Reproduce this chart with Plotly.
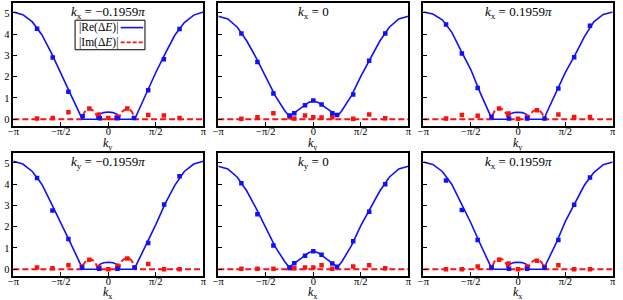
import numpy as np
import plotly.graph_objects as go

PI = np.pi

# ---------------- text ----------------
panel_titles = [
    "<i>k</i><sub>x</sub> = −0.1959<i>π</i>",
    "<i>k</i><sub>x</sub> = 0",
    "<i>k</i><sub>x</sub> = 0.1959<i>π</i>",
    "<i>k</i><sub>y</sub> = −0.1959<i>π</i>",
    "<i>k</i><sub>y</sub> = 0",
    "<i>k</i><sub>x</sub> = 0.1959<i>π</i>",
]
x_titles = ["<i>k</i><sub>y</sub>"] * 3 + ["<i>k</i><sub>x</sub>"] * 3
legend_labels = ["|Re(Δ<i>E</i>)|", "|Im(Δ<i>E</i>)|"]
xtick_pos = [-1, -0.5, 0, 0.5, 1]          # in units of pi
xtick_text = ["−π", "−π/2", "0", "π/2", "π"]
ytick_vals = [0, 1, 2, 3, 4, 5]

# ---------------- data (k in units of pi) ----------------
# Panel A: top-left
re_k_A = [-1, -0.9, -0.8, -0.7, -0.6, -0.5, -0.4, -0.3, -0.275, -0.115, -0.11, -0.09, -0.05, 0,
          0.05, 0.09, 0.11, 0.115, 0.28, 0.3, 0.4, 0.5, 0.6, 0.7, 0.8, 0.9, 1]
re_A = [5.05, 4.92, 4.58, 3.98, 3.12, 2.2, 1.2, 0.25, 0, 0, 0.13, 0.24, 0.31, 0.34,
        0.31, 0.24, 0.13, 0, 0, 0.22, 1.25, 2.2, 3.1, 3.95, 4.55, 4.9, 5.05]
im_k_A = [-1, -0.275, -0.265, -0.25, -0.23, -0.2, -0.17, -0.145, -0.125, -0.115,
          0.115, 0.125, 0.145, 0.17, 0.2, 0.23, 0.25, 0.265, 0.28, 1]
im_A = [0, 0, 0.2, 0.34, 0.44, 0.48, 0.44, 0.34, 0.2, 0,
        0, 0.2, 0.34, 0.44, 0.48, 0.44, 0.34, 0.2, 0, 0]
blue_k_A = [-0.75, -0.585, -0.42, -0.27, -0.09, 0.09, 0.27, 0.42, 0.585, 0.75]
blue_A = [4.26, 2.90, 1.29, 0.14, 0.04, 0.04, 0.06, 1.36, 2.82, 4.25]
red_k_A = [-0.75, -0.585, -0.42, -0.2, -0.1, 0.0, 0.09, 0.2, 0.42, 0.585, 0.75]
red_A = [0.03, 0.06, 0.33, 0.50, 0.22, 0.06, 0.11, 0.50, 0.20, 0.17, 0.06]

# Panel B: top-middle
re_k_B = [-1, -0.9, -0.8, -0.7, -0.6, -0.5, -0.4, -0.3, -0.255, -0.2, -0.15, -0.1, -0.05, 0,
          0.05, 0.1, 0.15, 0.2, 0.255, 0.3, 0.4, 0.5, 0.6, 0.7, 0.8, 0.9, 1]
re_B = [4.85, 4.72, 4.33, 3.68, 2.88, 2.02, 1.1, 0.4, 0.15, 0.3, 0.47, 0.64, 0.79, 0.86,
        0.79, 0.64, 0.47, 0.3, 0.15, 0.4, 1.1, 2.02, 2.88, 3.68, 4.33, 4.72, 4.85]
im_k_B = [-1, 1]
im_B = [0, 0]
blue_k_B = [-0.757, -0.588, -0.42, -0.25, -0.2, -0.087, 0, 0.087, 0.2, 0.25, 0.42, 0.588, 0.757]
blue_B = [4.04, 2.69, 1.21, 0.17, 0.28, 0.66, 0.88, 0.69, 0.28, 0.2, 1.16, 2.75, 4.04]
red_k_B = [-0.757, -0.588, -0.42, -0.25, -0.2, -0.087, 0, 0.087, 0.2, 0.42, 0.588, 0.757]
red_B = [0.02, 0.09, 0.28, 0.09, 0.03, 0.17, 0.09, 0.08, 0.09, 0.02, 0.22, 0.05]

# Panel C: top-right
re_k_C = [-1, -0.9, -0.8, -0.7, -0.6, -0.5, -0.4, -0.3, -0.275, -0.11, -0.105, -0.085, -0.045, 0,
          0.045, 0.085, 0.105, 0.11, 0.275, 0.3, 0.4, 0.5, 0.6, 0.7, 0.8, 0.9, 1]
re_C = [5.05, 4.95, 4.68, 4.1, 3.2, 2.35, 1.25, 0.3, 0, 0, 0.13, 0.24, 0.31, 0.33,
        0.31, 0.24, 0.13, 0, 0, 0.28, 1.2, 2.2, 3.0, 3.88, 4.58, 4.93, 5.05]
im_k_C = [-1, -0.275, -0.265, -0.25, -0.23, -0.195, -0.165, -0.14, -0.12, -0.11,
          0.11, 0.12, 0.14, 0.165, 0.195, 0.23, 0.25, 0.265, 0.275, 1]
im_C = [0, 0, 0.22, 0.37, 0.47, 0.52, 0.47, 0.37, 0.22, 0,
        0, 0.18, 0.3, 0.39, 0.43, 0.39, 0.3, 0.18, 0, 0]
blue_k_C = [-0.76, -0.593, -0.426, -0.28, -0.095, 0.095, 0.28, 0.426, 0.593, 0.76]
blue_C = [4.46, 3.09, 1.47, 0.11, 0.03, 0.03, 0.03, 1.45, 2.92, 4.4]
red_k_C = [-0.76, -0.593, -0.426, -0.2, -0.1, 0.0, 0.095, 0.2, 0.426, 0.593, 0.76]
red_C = [0.03, 0.2, 0.16, 0.5, 0.27, 0.02, 0.1, 0.42, 0.22, 0.1, 0.1]

# Panel D: bottom-left
re_k_D = [-1, -0.9, -0.8, -0.7, -0.6, -0.5, -0.4, -0.3, -0.275, -0.115, -0.11, -0.09, -0.05, 0,
          0.05, 0.09, 0.11, 0.115, 0.275, 0.3, 0.4, 0.5, 0.6, 0.7, 0.8, 0.9, 1]
re_D = [5.08, 4.95, 4.6, 4.0, 3.1, 2.2, 1.25, 0.3, 0, 0, 0.12, 0.23, 0.3, 0.33,
        0.3, 0.23, 0.12, 0, 0, 0.25, 1.15, 2.1, 3.1, 3.95, 4.6, 4.95, 5.08]
im_k_D = [-1, -0.275, -0.265, -0.25, -0.23, -0.195, -0.165, -0.14, -0.125, -0.115,
          0.115, 0.125, 0.14, 0.165, 0.195, 0.23, 0.25, 0.265, 0.275, 1]
im_D = [0, 0, 0.2, 0.33, 0.43, 0.47, 0.43, 0.33, 0.2, 0,
        0, 0.22, 0.37, 0.48, 0.53, 0.48, 0.37, 0.22, 0, 0]
blue_k_D = [-0.75, -0.588, -0.42, -0.277, -0.096, 0.096, 0.277, 0.42, 0.588, 0.75]
blue_D = [4.29, 2.76, 1.42, 0.08, 0.02, 0.02, 0.08, 1.23, 3.04, 4.37]
red_k_D = [-0.75, -0.588, -0.42, -0.277, -0.2, -0.096, 0.0, 0.096, 0.2, 0.277, 0.42, 0.588, 0.75]
red_D = [0.08, 0.05, 0.19, 0.13, 0.44, 0.08, 0.0, 0.16, 0.5, 0.08, 0.24, 0.0, 0.0]

# Panel E: bottom-middle
re_k_E = [-1, -0.9, -0.8, -0.7, -0.6, -0.5, -0.4, -0.3, -0.255, -0.2, -0.15, -0.1, -0.05, 0,
          0.05, 0.1, 0.15, 0.2, 0.255, 0.3, 0.4, 0.5, 0.6, 0.7, 0.8, 0.9, 1]
re_E = [4.85, 4.72, 4.33, 3.68, 2.85, 1.98, 1.05, 0.35, 0.1, 0.27, 0.45, 0.62, 0.77, 0.84,
        0.77, 0.62, 0.45, 0.27, 0.1, 0.35, 1.1, 2.05, 2.9, 3.68, 4.33, 4.72, 4.85]
im_k_E = [-1, 1]
im_E = [0, 0]
blue_k_E = [-0.757, -0.588, -0.42, -0.25, -0.2, -0.087, 0, 0.087, 0.2, 0.25, 0.42, 0.588, 0.757]
blue_E = [4.05, 2.59, 1.12, 0.08, 0.28, 0.63, 0.84, 0.68, 0.27, 0.11, 1.31, 2.71, 4.0]
red_k_E = [-0.757, -0.588, -0.42, -0.25, -0.2, -0.087, 0, 0.087, 0.2, 0.42, 0.588, 0.757]
red_E = [0.02, 0.02, 0.02, 0.04, 0.05, 0.08, 0.08, 0.19, 0.02, 0.13, 0.19, 0.05]

# Panel F: bottom-right
re_k_F = [-1, -0.9, -0.8, -0.7, -0.6, -0.5, -0.4, -0.3, -0.275, -0.11, -0.105, -0.085, -0.045, 0,
          0.045, 0.085, 0.105, 0.11, 0.275, 0.3, 0.4, 0.5, 0.6, 0.7, 0.8, 0.9, 1]
re_F = [5.05, 4.93, 4.6, 4.0, 3.1, 2.2, 1.2, 0.25, 0, 0, 0.13, 0.24, 0.31, 0.33,
        0.31, 0.24, 0.13, 0, 0, 0.28, 1.2, 2.25, 3.1, 3.95, 4.55, 4.92, 5.05]
im_k_F = [-1, -0.275, -0.265, -0.25, -0.23, -0.195, -0.165, -0.14, -0.12, -0.11,
          0.11, 0.12, 0.14, 0.165, 0.195, 0.23, 0.25, 0.265, 0.275, 1]
im_F = [0, 0, 0.21, 0.36, 0.46, 0.5, 0.46, 0.36, 0.21, 0,
        0, 0.18, 0.31, 0.4, 0.44, 0.4, 0.31, 0.18, 0, 0]
blue_k_F = [-0.76, -0.593, -0.426, -0.28, -0.095, 0.095, 0.28, 0.426, 0.593, 0.76]
blue_F = [4.18, 2.79, 1.37, 0.08, 0.02, 0.02, 0.08, 1.37, 3.03, 4.32]
red_k_F = [-0.76, -0.593, -0.426, -0.28, -0.2, -0.1, 0.0, 0.095, 0.2, 0.28, 0.426, 0.593, 0.76]
red_F = [0.0, 0.0, 0.13, 0.08, 0.44, 0.27, 0.0, 0.13, 0.4, 0.11, 0.19, 0.0, 0.0]

panels = [
    (re_k_A, re_A, im_k_A, im_A, blue_k_A, blue_A, red_k_A, red_A),
    (re_k_B, re_B, im_k_B, im_B, blue_k_B, blue_B, red_k_B, red_B),
    (re_k_C, re_C, im_k_C, im_C, blue_k_C, blue_C, red_k_C, red_C),
    (re_k_D, re_D, im_k_D, im_D, blue_k_D, blue_D, red_k_D, red_D),
    (re_k_E, re_E, im_k_E, im_E, blue_k_E, blue_E, red_k_E, red_E),
    (re_k_F, re_F, im_k_F, im_F, blue_k_F, blue_F, red_k_F, red_F),
]

# ---------------- figure ----------------
FONT = "Liberation Serif"
BLUE = "#1010ff"
RED = "#ff1010"

x_domains = [[0.0214, 0.3263], [0.3504, 0.6554], [0.6795, 0.9835]]
y_domains = [[0.58, 0.99], [0.08, 0.49]]
x_title_y = [0.52, 0.024]   # paper y of the k-axis titles, per row

fig = go.Figure()
layout = dict(
    width=623, height=300,
    margin=dict(l=0, r=0, t=0, b=0, autoexpand=False),
    paper_bgcolor="white", plot_bgcolor="white",
    showlegend=False,
    font=dict(family=FONT, size=11, color="black"),
)

def pi_arr(a):
    return [v * PI for v in a]

annotations = []
shapes = []
for i, (rk, rv, ik, iv, bk, bv, qk, qv) in enumerate(panels):
    n = i + 1
    suf = "" if n == 1 else str(n)
    xa, ya = "x" + suf, "y" + suf
    row, col = divmod(i, 3)
    fig.add_trace(go.Scatter(x=pi_arr(ik), y=iv, mode="lines", xaxis=xa, yaxis=ya,
                             line=dict(color=RED, width=1.9, dash="6px,3px"),
                             name=legend_labels[1]))
    fig.add_trace(go.Scatter(x=pi_arr(rk), y=rv, mode="lines", xaxis=xa, yaxis=ya,
                             line=dict(color=BLUE, width=1.6), name=legend_labels[0]))
    fig.add_trace(go.Scatter(x=pi_arr(qk), y=qv, mode="markers", xaxis=xa, yaxis=ya,
                             marker=dict(color=RED, symbol="square", size=4.5, line=dict(width=0))))
    fig.add_trace(go.Scatter(x=pi_arr(bk), y=bv, mode="markers", xaxis=xa, yaxis=ya,
                             marker=dict(color=BLUE, symbol="square", size=4.5, line=dict(width=0))))
    layout["xaxis" + suf] = dict(
        domain=x_domains[col], anchor=ya, range=[-PI, PI],
        tickvals=pi_arr(xtick_pos), ticktext=xtick_text,
        ticks="inside", ticklen=4, tickwidth=1, tickcolor="black",
        showline=True, mirror=True, linecolor="black", linewidth=1.5,
        showgrid=False, zeroline=False, automargin=False,
        tickfont=dict(family=FONT, size=10.5),
    )
    layout["yaxis" + suf] = dict(
        domain=y_domains[row], anchor=xa, range=[-0.32, 5.47],
        tickvals=ytick_vals, showticklabels=(col == 0),
        ticks="inside", ticklen=4, tickwidth=1, tickcolor="black",
        showline=True, mirror=True, linecolor="black", linewidth=1.5,
        showgrid=False, zeroline=False, automargin=False,
        tickfont=dict(family=FONT, size=10.5),
    )
    annotations.append(dict(text=panel_titles[i], xref=xa + " domain", yref=ya + " domain",
                            x=0.5, y=0.92, xanchor="center", yanchor="middle",
                            showarrow=False, font=dict(family=FONT, size=13)))
    annotations.append(dict(text=x_titles[i], xref="paper", yref="paper",
                            x=sum(x_domains[col]) / 2, y=x_title_y[row],
                            xanchor="center", yanchor="middle",
                            showarrow=False, font=dict(family=FONT, size=12)))

# custom legend in first panel (text left, line sample right)
shapes.append(dict(type="rect", xref="x domain", yref="y domain",
                   x0=0.325, x1=0.693, y0=0.62, y1=0.86,
                   line=dict(color="black", width=1), fillcolor="white", layer="above"))
for j, (lab, col_, dash, yy) in enumerate([(legend_labels[0], BLUE, "solid", 0.80),
                                            (legend_labels[1], RED, "4px,2px", 0.68)]):
    annotations.append(dict(text=lab, xref="x domain", yref="y domain", x=0.333, y=yy,
                            xanchor="left", yanchor="middle", showarrow=False,
                            font=dict(family=FONT, size=11.5)))
    shapes.append(dict(type="line", xref="x domain", yref="y domain", x0=0.565, x1=0.683,
                       y0=yy, y1=yy, line=dict(color=col_, width=1.6, dash=dash), layer="above"))

layout["annotations"] = annotations
layout["shapes"] = shapes
fig.update_layout(**layout)

# pull x tick labels a little closer to the frame, as in the reference
try:
    fig.update_xaxes(ticklabelstandoff=-5)
except Exception:
    pass

fig.write_html(
    "out.html",
    config={"displayModeBar": False},
    post_script="document.body.style.margin='0';document.body.style.overflow='hidden';",
)
